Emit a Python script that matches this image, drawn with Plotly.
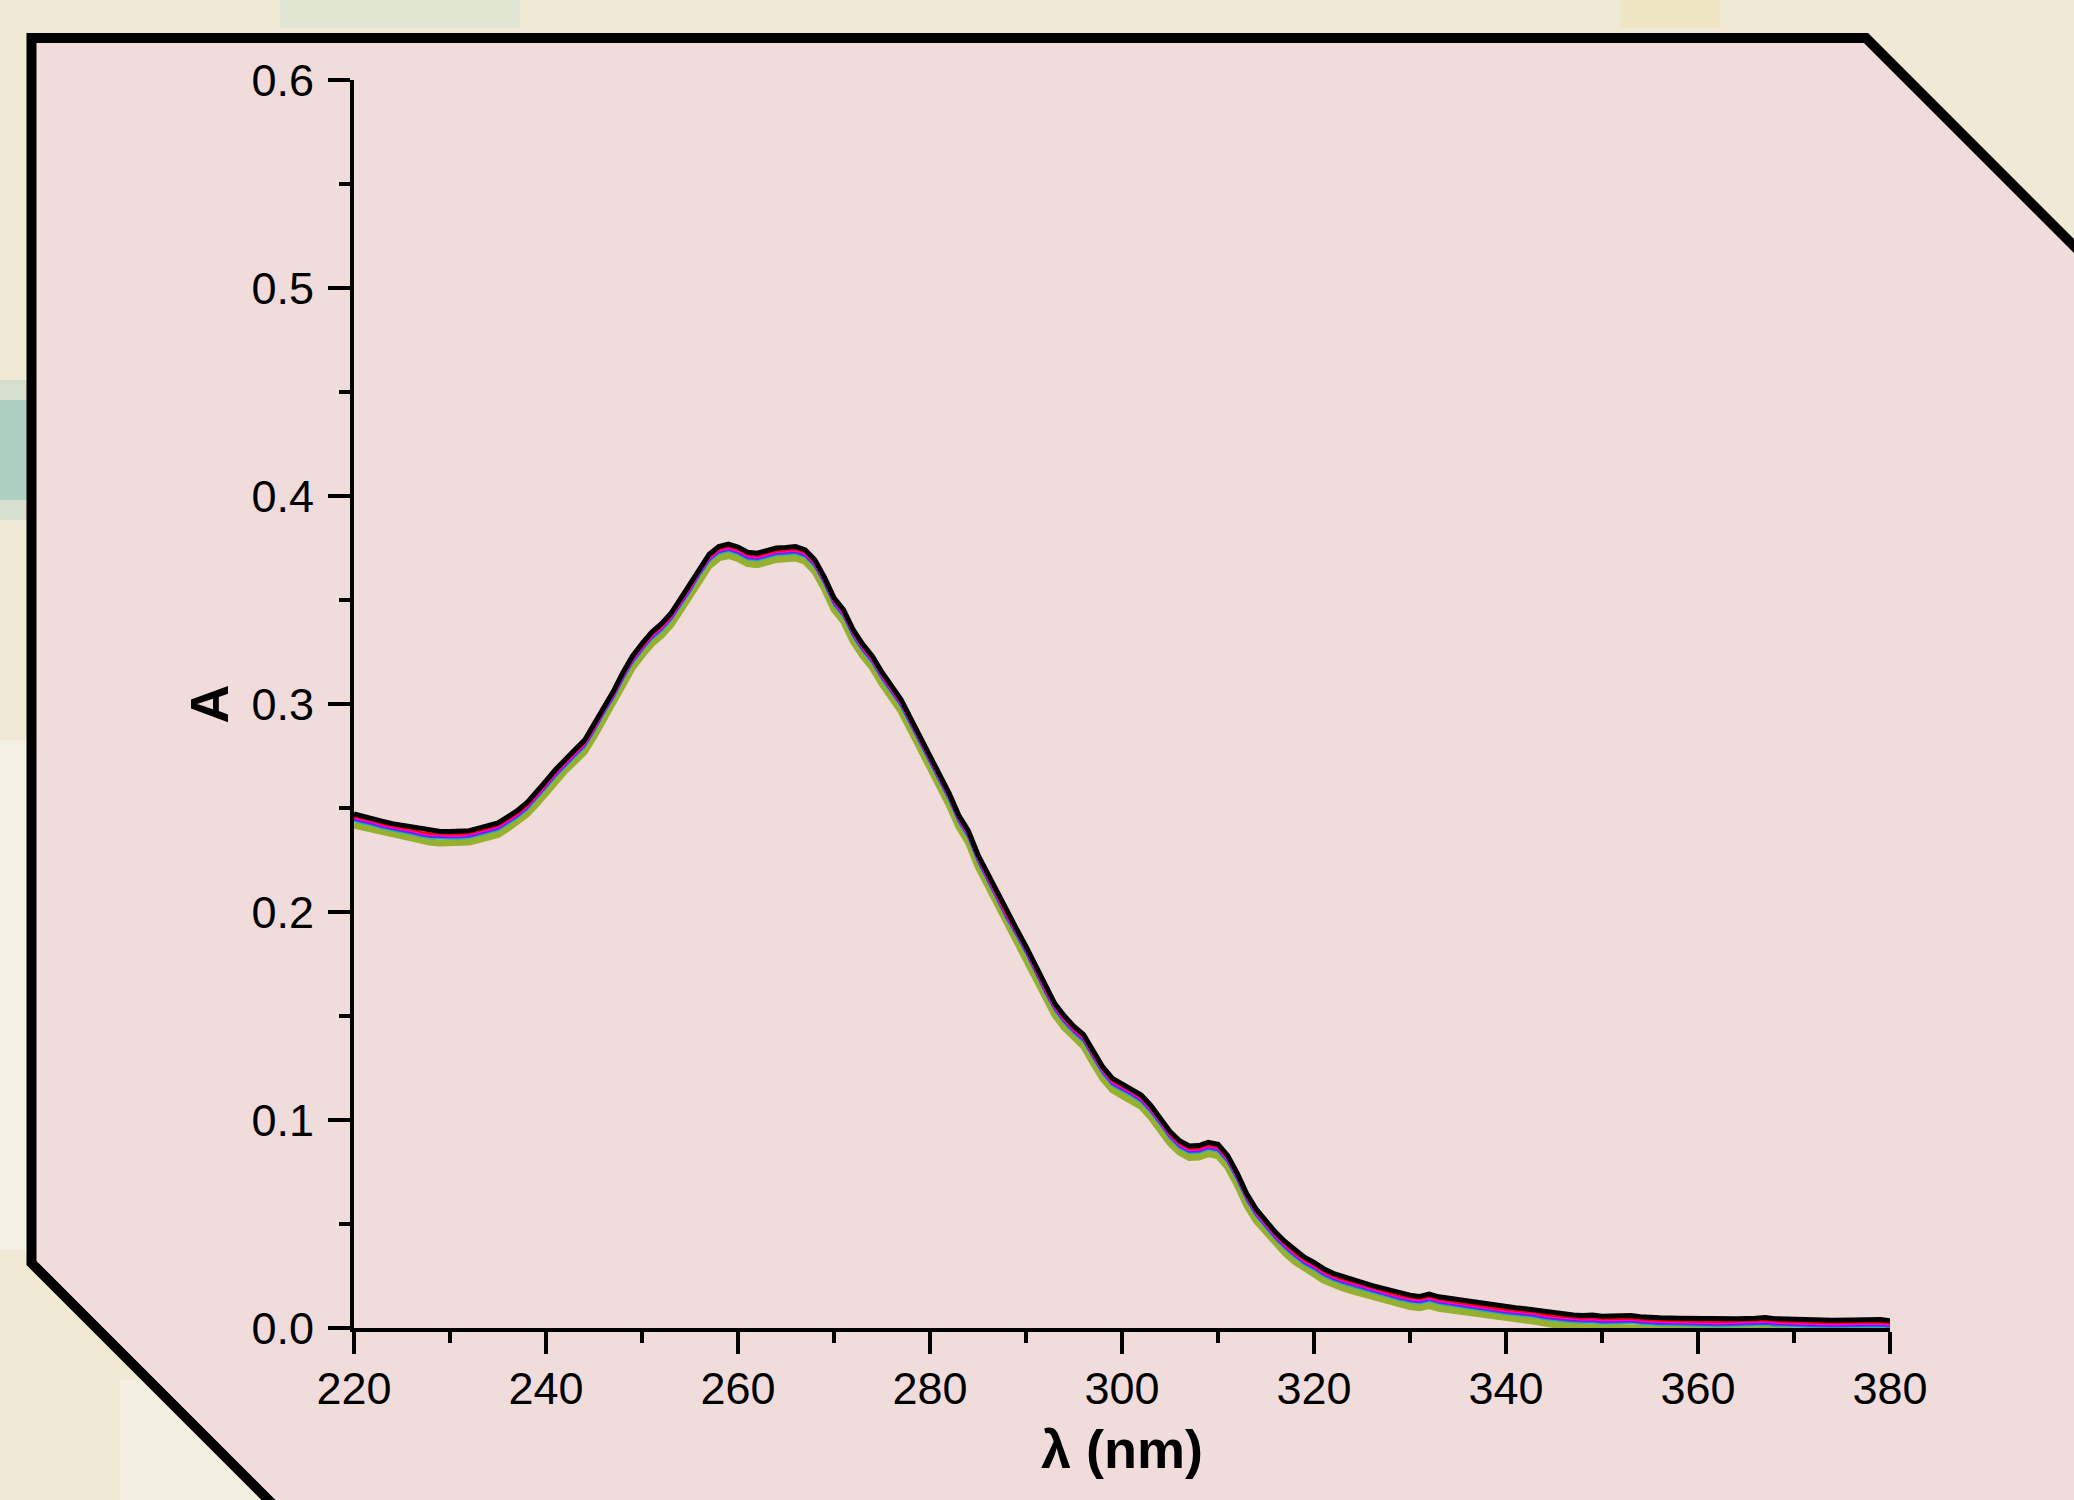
import plotly.graph_objects as go

# ---------------- data ----------------
wavelength_nm = [
    220, 221, 222, 223, 224, 225, 226, 227, 228, 229, 230, 231, 232, 233, 234, 235, 236, 237, 238, 239,
    240, 241, 242, 243, 244, 245, 246, 247, 248, 249, 250, 251, 252, 253, 254, 255, 256, 257, 258, 259,
    260, 261, 262, 263, 264, 265, 266, 267, 268, 269, 270, 271, 272, 273, 274, 275, 276, 277, 278, 279,
    280, 281, 282, 283, 284, 285, 286, 287, 288, 289, 290, 291, 292, 293, 294, 295, 296, 297, 298, 299,
    300, 301, 302, 303, 304, 305, 306, 307, 308, 309, 310, 311, 312, 313, 314, 315, 316, 317, 318, 319,
    320, 321, 322, 323, 324, 325, 326, 327, 328, 329, 330, 331, 332, 333, 334, 335, 336, 337, 338, 339,
    340, 341, 342, 343, 344, 345, 346, 347, 348, 349, 350, 352, 353, 354, 355, 356, 358, 360, 362, 364,
    366, 367, 368, 370, 372, 374, 376, 378, 379, 380,
]

# central absorbance trace of the bundle of spectra
absorbance_mid = [
    0.2447, 0.2437, 0.2425, 0.2411, 0.2400, 0.2392, 0.2384, 0.2372, 0.2365, 0.2362, 0.2362, 0.2362, 0.2366, 0.2378, 0.2390, 0.2403, 0.2432, 0.2462, 0.2500, 0.2550,
    0.2605, 0.2660, 0.2710, 0.2755, 0.2800, 0.2875, 0.2960, 0.3035, 0.3125, 0.3205, 0.3265, 0.3320, 0.3360, 0.3410, 0.3480, 0.3550, 0.3628, 0.3695, 0.3732, 0.3744,
    0.3730, 0.3705, 0.3700, 0.3712, 0.3725, 0.3728, 0.3732, 0.3716, 0.3668, 0.3585, 0.3485, 0.3428, 0.3332, 0.3262, 0.3205, 0.3128, 0.3060, 0.2995, 0.2905, 0.2815,
    0.2725, 0.2640, 0.2545, 0.2440, 0.2365, 0.2250, 0.2160, 0.2065, 0.1975, 0.1895, 0.1810, 0.1715, 0.1620, 0.1535, 0.1475, 0.1425, 0.1385, 0.1305, 0.1230, 0.1175,
    0.1150, 0.1125, 0.1095, 0.1045, 0.0985, 0.0920, 0.0875, 0.0850, 0.0852, 0.0868, 0.0858, 0.0805, 0.0720, 0.0620, 0.0545, 0.0490, 0.0435, 0.0390, 0.0350, 0.0315,
    0.0290, 0.0260, 0.0238, 0.0222, 0.0208, 0.0195, 0.0180, 0.0168, 0.0155, 0.0143, 0.0133, 0.0127, 0.0138, 0.0125, 0.0118, 0.0112, 0.0105, 0.0098, 0.0088, 0.0082,
    0.0076, 0.0072, 0.0068, 0.0062, 0.0052, 0.0046, 0.0042, 0.0038, 0.0035, 0.0037, 0.0031, 0.0033, 0.0035, 0.0029, 0.0025, 0.0024, 0.0022, 0.0020, 0.0018, 0.0020,
    0.0022, 0.0025, 0.0020, 0.0016, 0.0014, 0.0012, 0.0014, 0.0015, 0.0016, 0.0010,
]

# the individual spectra sit slightly above / below one another (drawn bottom first)
series_names = ["olive", "cyan", "blue", "violet", "magenta", "red", "black"]
series_offsets = [-0.0030, -0.0009, -0.0003, 0.0002, 0.0006, 0.0012, 0.0025]
series_colors = ["#98B030", "#20B4B4", "#3A50D0", "#8A00FF", "#FF00FF", "#FF0000", "#000000"]
series_widths = [7, 2.5, 2.5, 2.5, 2.5, 2.5, 5]

x_tick_values = [220, 240, 260, 280, 300, 320, 340, 360, 380]
y_tick_values = [0.0, 0.1, 0.2, 0.3, 0.4, 0.5, 0.6]
y_tick_labels = ["0.0", "0.1", "0.2", "0.3", "0.4", "0.5", "0.6"]

# ---------------- layout geometry ----------------
W, H = 2074, 1500
ML, MR, MT, MB = 354, 184, 80, 172
PW, PH = W - ML - MR, H - MT - MB


def px(x):
    return (x - ML) / PW


def py(y):
    return (H - MB - y) / PH


fig = go.Figure()

for name, off, col, wid in zip(series_names, series_offsets, series_colors, series_widths):
    fig.add_trace(go.Scatter(
        x=wavelength_nm,
        y=[a + off for a in absorbance_mid],
        mode="lines",
        name=name,
        line=dict(color=col, width=wid),
        hoverinfo="skip",
        showlegend=False,
    ))

shapes = []
# soft background hints (blurred photo behind the panel)
bg_blobs = [
    (0, 400, 28, 500, "rgba(120,190,180,0.45)"),
    (0, 380, 28, 520, "rgba(120,190,180,0.2)"),
    (0, 740, 28, 1250, "rgba(255,255,255,0.35)"),
    (280, 0, 520, 28, "rgba(200,225,210,0.35)"),
    (1620, 0, 1720, 28, "rgba(245,225,170,0.4)"),
    (120, 1380, 300, 1500, "rgba(255,255,255,0.3)"),
]
for x0, y0, x1, y1, c in bg_blobs:
    shapes.append(dict(type="rect", xref="paper", yref="paper", layer="below",
                       x0=px(x0), x1=px(x1), y0=py(y0), y1=py(y1),
                       fillcolor=c, line=dict(width=0)))

panel = "M {},{} L {},{} L {},{} L {},{} L {},{} L {},{} Z".format(
    px(31.5), py(38), px(1866), py(38), px(2400), py(572),
    px(2400), py(1800), px(568.5), py(1800), px(31.5), py(1263))
shapes.append(dict(type="path", xref="paper", yref="paper", layer="below", path=panel,
                   fillcolor="#F1DCDC", line=dict(color="black", width=10)))

tick_font = dict(family="Liberation Sans, Arial, sans-serif", size=45, color="black")
title_font = dict(family="Liberation Sans, Arial, sans-serif", size=54, color="black")

fig.update_layout(
    width=W, height=H,
    margin=dict(l=ML, r=MR, t=MT, b=MB, autoexpand=False),
    paper_bgcolor="#EFE9D5",
    plot_bgcolor="rgba(0,0,0,0)",
    shapes=shapes,
    showlegend=False,
    xaxis=dict(
        range=[220, 380], tickvals=x_tick_values, ticks="outside", ticklen=22, tickwidth=4,
        tickcolor="black", showline=True, linewidth=4, linecolor="black", showgrid=False,
        zeroline=False, tickfont=tick_font, ticklabelstandoff=-4,
        minor=dict(dtick=10, tick0=220, ticks="outside", ticklen=11, tickwidth=4, tickcolor="black", showgrid=False),
        title=dict(text="<b>λ (nm)</b>", font=title_font, standoff=18),
    ),
    yaxis=dict(
        range=[0, 0.6], tickvals=y_tick_values, ticktext=y_tick_labels, ticks="outside", ticklen=22,
        tickwidth=4, tickcolor="black", showline=True, linewidth=4, linecolor="black", showgrid=False,
        zeroline=False, tickfont=tick_font, ticklabelstandoff=5,
        minor=dict(dtick=0.05, tick0=0, ticks="outside", ticklen=11, tickwidth=4, tickcolor="black", showgrid=False),
        title=dict(text="<b>A</b>", font=title_font, standoff=7),
    ),
)

fig.write_html("out.html", config={"displayModeBar": False},
               post_script="document.body.style.margin='0px';document.body.style.overflow='hidden';")
